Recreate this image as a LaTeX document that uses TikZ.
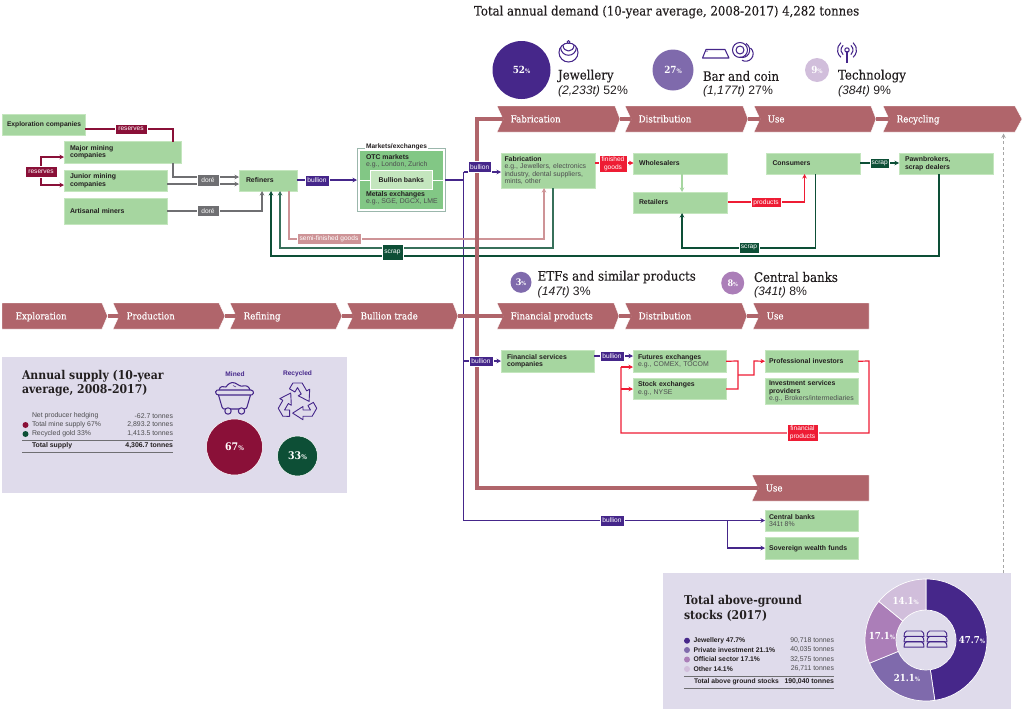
\documentclass[tikz,border=0pt]{standalone}
\usepackage{fontspec}
\setmainfont{Liberation Sans}
\newfontfamily\slab[FakeStretch=0.9,FakeBold=0.25]{DejaVu Serif}
\newfontfamily\slabb[FakeStretch=0.9]{DejaVu Serif Bold}
\usetikzlibrary{arrows.meta,calc}
\definecolor{boxg}{HTML}{A6D6A0}
\definecolor{boxe}{HTML}{C4E6BE}
\definecolor{boxm}{HTML}{82C785}
\definecolor{dkred}{HTML}{8A1038}
\definecolor{bluec}{HTML}{45268A}
\definecolor{grayc}{HTML}{6F6F72}
\definecolor{dkg}{HTML}{0D4F36}
\definecolor{midg}{HTML}{37705A}
\definecolor{redc}{HTML}{EE1C34}
\definecolor{pinkc}{HTML}{CE9497}
\definecolor{chev}{HTML}{B0656B}
\definecolor{panelc}{HTML}{DFDBEB}
\definecolor{pa}{HTML}{46278A}
\definecolor{pb}{HTML}{7F6AAC}
\definecolor{pc}{HTML}{AB7EB8}
\definecolor{pd}{HTML}{D1BEDB}
\definecolor{txt}{HTML}{231F20}
\definecolor{det}{HTML}{4D4D4F}
\tikzset{
  conn/.style={line width=1.2pt,-{Stealth[length=4.5pt,width=4.5pt]}},
  plain/.style={line width=1.2pt},
  bar/.style={line width=3.4pt,draw=chev},
  tlabel/.style={inner sep=0pt,outer sep=0pt,text=white,font=\fontsize{6.6}{7.8}\selectfont,align=center,draw=white,line width=0.3pt},
  gstyle/.style={fill=boxg,draw=boxe,line width=0.5pt,outer sep=0pt,anchor=center,align=left,text=txt,font=\fontsize{6.9}{7.6}\selectfont},
  tnode/.style={inner sep=0pt,outer sep=0pt,text=txt,align=left},
  ico/.style={draw=bluec,line width=1.05pt,line join=round},
  chevtext/.style={inner sep=0pt,text=white,font=\slab\fontsize{9.6}{11}\selectfont,anchor=base west},
  ctitle/.style={inner sep=0pt,text=white,font=\fontsize{9}{10}\selectfont\bfseries},
  bighead/.style={tnode,anchor=west,font=\slab\fontsize{13.1}{15}\selectfont},
  subhead/.style={tnode,anchor=west,font=\fontsize{12.2}{14}\selectfont},
}
\newcommand{\gbox}[7]{%
  \pgfmathsetmacro\bw{#4-#2}\pgfmathsetmacro\bh{#5-#3}\pgfmathsetmacro\tw{#4-#2-2*#6}%
  \node[gstyle,minimum width=\bw pt,minimum height=\bh pt,text width=\tw pt,inner xsep=#6pt,inner ysep=0pt] (#1) at ({(#2+#4)/2},{(#3+#5)/2}) {#7};}
\newcommand{\lab}[7]{%
  \pgfmathsetmacro\bw{#4-#2}\pgfmathsetmacro\bh{#5-#3}%
  \node[tlabel,fill=#6,minimum width=\bw pt,minimum height=\bh pt] (#1) at ({(#2+#4)/2},{(#3+#5)/2}) {#7};}
\newcommand{\chevr}[7]{% name x1 x2 tip notch yc text
  \fill[chev,draw=white,line width=0.4pt] (#2,#6-13) -- (#3,#6-13) -- (#4,#6) -- (#3,#6+13) -- (#2,#6+13) -- (#2+#5,#6) -- cycle;
  \coordinate (#1-l) at (#2+#5,#6); \coordinate (#1-r) at (#4,#6);
  \node[chevtext] (#1) at (#2+13.5,#6+3.4) {#7};}
\newcommand{\pct}[1]{#1{\fontsize{0.62em}{1em}\selectfont\%}}
\newcommand{\dseg}[3]{%
  \fill[#1,draw=white,line width=0.7pt] ({926+61*cos(#2)},{640+61*sin(#2)}) arc[start angle=#2,end angle=#3,radius=61] -- ({926+30*cos(#3)},{640+30*sin(#3)}) arc[start angle=#3,end angle=#2,radius=30] -- cycle;}
\newcommand{\goldbar}[2]{%
  \draw[ico,line width=0.95pt] (#1,#2+5.5) -- (#1+0.5,#2+2) -- (#1+2.5,#2) -- (#1+17.5,#2) -- (#1+19.5,#2+2) -- (#1+20,#2+5.5) -- cycle;}
\begin{document}
\begin{tikzpicture}[x=1pt,y=-1pt]
\useasboundingbox (0,0) rectangle (1024,710);
% titles
\node[bighead,font=\slab\fontsize{13}{15}\selectfont] (demand) at (474,12) {Total annual demand (10-year average, 2008-2017) 4,282 tonnes};
% demand circles
\node[circle,fill=pa,minimum size=58pt,inner sep=0pt,ctitle,font=\slabb\fontsize{9.8}{12}\selectfont] (cj) at (521.5,70) {\pct{52}};
\node[circle,fill=pb,minimum size=41pt,inner sep=0pt,ctitle,font=\slabb\fontsize{9.8}{12}\selectfont] (cb) at (673,70) {\pct{27}};
\node[circle,fill=pd,minimum size=24pt,inner sep=0pt,ctitle,font=\slabb\fontsize{9.8}{12}\selectfont] (ct) at (817,70) {\pct{9}};
\node[bighead] (tj) at (558,76) {Jewellery};
\node[subhead] (tj2) at (558,91) {\textit{(2,233t)} 52\%};
\node[bighead] (tb) at (703,76) {Bar and coin};
\node[subhead] (tb2) at (703,91) {\textit{(1,177t)} 27\%};
\node[bighead] (tt) at (838,76) {Technology};
\node[subhead] (tt2) at (838,91) {\textit{(384t)} 9\%};
% demand icons
\draw[ico] (568.5,52.5) circle (9.5);
\draw[ico] (560.5,47) .. controls (561,58) and (576,58) .. (576.5,47);
\draw[ico] (563,45) .. controls (563,53) and (574,53) .. (574,45);
\draw[ico,fill=white] (568.5,42) circle (1.5);
\draw[ico] (702.5,58) -- (706,49.5) -- (725,49.5) -- (729,58) -- cycle;
\fill[bluec] (707,51.2) circle (0.7);
\draw[ico] (740,50) circle (7.5);
\draw[ico] (740,50) circle (4);
\draw[ico] (746,43.5) arc[start angle=-60,end angle=110,radius=7.5];
\draw[ico] (750.5,48) arc[start angle=-50,end angle=120,radius=7.5];
\draw[ico] (847,51) -- (847,62.5);
\draw[ico] (847,50) circle (2.2);
\draw[ico] (850.9,45.4) arc[start angle=-50,end angle=50,radius=6];
\draw[ico] (853.1,42.7) arc[start angle=-50,end angle=50,radius=9.5];
\draw[ico] (843.1,45.4) arc[start angle=230,end angle=130,radius=6];
\draw[ico] (840.9,42.7) arc[start angle=230,end angle=130,radius=9.5];
% row 2 heads
\node[circle,fill=pb,minimum size=21pt,inner sep=0pt,ctitle,font=\slabb\fontsize{9}{11}\selectfont] (c3) at (521,282.3) {\pct{3}};
\node[circle,fill=pc,minimum size=23pt,inner sep=0pt,ctitle,font=\slabb\fontsize{9}{11}\selectfont] (c8) at (732.7,283) {\pct{8}};
\node[bighead] (te) at (537.7,277) {ETFs and similar products};
\node[subhead] (te2) at (537.7,292) {\textit{(147t)} 3\%};
\node[bighead] (tc) at (754,277) {Central banks};
\node[subhead] (tc2) at (754,292) {\textit{(341t)} 8\%};
% chevrons
\chevr{fa}{497}{615}{620}{6}{119}{Fabrication}
\chevr{di}{625}{743}{748}{6}{119}{Distribution}
\chevr{us}{754}{871}{876}{6}{119}{Use}
\chevr{rc}{883}{1015}{1022}{6}{119}{Recycling}
\chevr{ex}{2}{102}{107.5}{0}{316}{Exploration}
\chevr{pr}{113}{219}{225}{6}{316}{Production}
\chevr{re}{230}{336}{342}{6}{316}{Refining}
\chevr{bt}{347}{453}{458}{6}{316}{Bullion trade}
\chevr{fp}{497}{614}{619}{6}{316}{Financial products}
\chevr{d2}{625}{742}{747}{6}{316}{Distribution}
\chevr{u2}{753}{869}{869}{6}{316}{Use}
\chevr{u3}{752}{869}{869}{6}{488}{Use}
% blue vertical
\draw[plain,bluec] (463.7,172) -- (463.7,520.5);
\foreach \a/\b in {fa/di,di/us,us/rc,ex/pr,pr/re,re/bt,bt/fp,fp/d2,d2/u2}{\draw[bar] (\a-r) -- (\b-l);}
% boxes
\gbox{expl}{2}{114}{85}{135}{5}{\mbox{\textbf{\fontsize{6.7}{7.6}\selectfont Exploration companies}}}
\gbox{major}{64}{141.5}{181}{163}{6}{\textbf{Major mining\\companies}}
\gbox{junior}{64}{170}{167}{191}{6}{\textbf{Junior mining\\companies}}
\gbox{arti}{64}{198}{167}{224}{6}{\textbf{Artisanal miners}}
\gbox{refi}{239}{170}{297}{191}{7}{\textbf{Refiners}}
\gbox{fabr}{501}{153}{595}{188}{3.5}{\textbf{Fabrication}\\{\color{det}e.g., Jewellers, electronics\\industry, dental suppliers,\\mints, other}}
\gbox{whol}{633.5}{153}{727.5}{174}{5.5}{\textbf{Wholesalers}}
\gbox{reta}{633.5}{192}{727.5}{213}{5.5}{\textbf{Retailers}}
\gbox{cons}{766.5}{153}{860}{174}{6}{\textbf{Consumers}}
\gbox{pawn}{899}{153}{993}{174}{6}{\textbf{Pawnbrokers,\\scrap dealers}}
\gbox{fins}{501}{350.5}{594}{372}{6}{\textbf{Financial services\\companies}}
\gbox{futu}{633}{350.5}{726}{372}{5}{\textbf{Futures exchanges}\\{\color{det}e.g., COMEX, TOCOM}}
\gbox{stoc}{633}{378}{726}{399}{5}{\textbf{Stock exchanges}\\{\color{det}e.g., NYSE}}
\gbox{prof}{765}{350.5}{858}{372}{4}{\textbf{Professional investors}}
\gbox{inve}{765}{378}{858}{404.5}{4}{\textbf{Investment services\\providers}\\{\color{det}e.g., Brokers/intermediaries}}
\gbox{cban}{765}{510}{858}{531}{4}{\textbf{Central banks}\\{\color{det}341t 8\%}}
\gbox{sove}{765}{537.5}{858}{559}{4}{\textbf{Sovereign wealth funds}}
% markets
\node[draw=midg!50,line width=1pt,minimum width=88pt,minimum height=63pt,inner sep=0pt,outer sep=0pt] (mkt) at (401,179.5) {};
\node[fill=white,inner xsep=1.5pt,inner ysep=0pt,tnode,font=\fontsize{6.6}{7.6}\selectfont\bfseries,anchor=center] (mktt) at (396.5,146.5) {\,Markets/exchanges\,};
\node[fill=boxm,minimum width=83pt,minimum height=58.5pt,inner sep=0pt,outer sep=0pt] (mkti) at (401.7,180) {};
\draw[white,line width=1pt] (mkti.west) -- (mkti.east);
\node[tnode,anchor=north west,font=\fontsize{6.9}{7.6}\selectfont] (otc) at (366,154) {\textbf{OTC markets}\\{\color{det}e.g., London, Zurich}};
\node[fill=boxe,draw=white,line width=1.2pt,minimum width=62pt,minimum height=19pt,inner sep=0pt,outer sep=0pt,text=txt,font=\fontsize{6.9}{7.6}\selectfont\bfseries] (bban) at (401.3,179.7) {Bullion banks};
\node[tnode,anchor=north west,font=\fontsize{6.9}{7.6}\selectfont] (metal) at (366,191) {\textbf{Metals exchanges}\\{\color{det}e.g., SGE, DGCX, LME}};
% connectors
\draw[plain,dkred] (expl.east |- 0,129) -- (173,129) -- (major.north -| 173,0);
\draw[conn,grayc] (173,163) -- (173,177) -- (refi.west |- 0,177);
\draw[conn,grayc] (junior.east |- 0,184) -- (refi.west |- 0,184);
\draw[conn,grayc] (arti.east) -- (262,211) -- (262,191);
\draw[conn,dkred] (41,166) -- (41,157) -- (major.west |- 0,157);
\draw[conn,dkred] (41,177) -- (41,185) -- (junior.west |- 0,185);
\draw[conn,bluec] (refi.east |- 0,180) -- (mkt.west |- 0,180);
\draw[plain,bluec] (mkt.east |- 0,180) -- (463.7,180);
\draw[conn,bluec] (463.7,172) -- (fabr.west |- 0,172);
\draw[conn,pinkc] (289,191) -- (289,239) -- (544,239) -- (544,188);
\draw[conn,midg] (fabr.south -| 553,0) -- (553,248) -- (280,248) -- (280,191);
\draw[conn,dkg] (pawn.south -| 939,0) -- (939,256) -- (271,256) -- (271,191);
\draw[conn,redc] (fabr.east |- 0,163) -- (whol.west |- 0,163);
\draw[conn,boxg] (whol.south -| 682,0) -- (reta.north -| 682,0);
\draw[conn,redc] (reta.east |- 0,202) -- (804.5,202) -- (cons.south -| 804.5,0);
\draw[conn,dkg] (cons.east |- 0,163) -- (pawn.west |- 0,163);
\draw[conn,dkg] (cons.south -| 815.4,0) -- (815.4,248) -- (682,248) -- (reta.south -| 682,0);
\draw[conn,bluec] (463.7,361) -- (fins.west |- 0,361);
\draw[conn,bluec] (fins.east |- 0,356) -- (futu.west |- 0,356);
\draw[plain,redc] (futu.east) -- (738,361) -- (738,389) -- (stoc.east |- 0,389);
\draw[conn,redc] (738,375) -- (754,375) -- (754,361) -- (prof.west);
\draw[plain,redc] (prof.east) -- (869,361) -- (869,433) -- (621,433) -- (621,367);
\draw[conn,redc] (621,367) -- (futu.west |- 0,367);
\draw[conn,redc] (621,389) -- (stoc.west |- 0,389);
\draw[conn,bluec] (463.7,520.5) -- (cban.west |- 0,520.5);
\draw[conn,bluec] (727.5,520.5) -- (727.5,548) -- (sove.west |- 0,548);
% thick bar
\draw[line width=4pt,chev] (fa-l) -- (477,119) -- (477,488) -- (u3-l);
% connector labels
\lab{lr1}{115}{124}{147}{134.5}{dkred}{reserves}
\lab{lr2}{25}{166}{57}{177}{dkred}{reserves}
\lab{ld1}{197}{174.5}{219}{186}{grayc}{doré}
\lab{ld2}{197}{205.5}{219}{216.5}{grayc}{doré}
\lab{lb1}{305}{175}{329}{186}{bluec}{bullion}
\lab{lb2}{468}{161.5}{491.5}{172.5}{bluec}{bullion}
\lab{lsf}{297}{233.5}{361}{244}{pinkc}{semi-finished goods}
\lab{ls1}{382}{244}{403}{260}{dkg}{scrap}
\lab{lfg}{599}{155}{627}{172.5}{redc}{finished\\goods}
\lab{lpr}{751}{197.5}{781}{207.5}{redc}{products}
\lab{ls2}{870}{158.5}{889.5}{168.5}{dkg}{scrap}
\lab{ls3}{739}{242.5}{759}{253}{dkg}{scrap}
\lab{lb3}{469}{356}{493}{366.5}{bluec}{bullion}
\lab{lb4}{600}{351}{624}{361.5}{bluec}{bullion}
\lab{lfp}{787}{424.5}{818}{441.5}{redc}{financial\\products}
\lab{lb5}{600}{515}{624}{526}{bluec}{bullion}
% supply panel
\node[fill=panelc,minimum width=345pt,minimum height=136pt,inner sep=0pt,outer sep=0pt] (supply) at (174.5,425) {};
\node[tnode,anchor=west,font=\slabb\fontsize{12.1}{14}\selectfont] (sup1) at (22,376.7) {Annual supply (10-year};
\node[tnode,anchor=west,font=\slabb\fontsize{12.1}{14}\selectfont] (sup2) at (22,390.7) {average, 2008-2017)};
\foreach \n/\y/\a/\b in {s1/416/Net producer hedging/-62.7 tonnes,s2/425/Total mine supply 67\%/{2,893.2 tonnes},s3/434/Recycled gold 33\%/{1,413.5 tonnes}}{
  \node[tnode,anchor=west,font=\fontsize{6.9}{8}\selectfont,text=det] (\n a) at (32,\y) {\a};
  \node[tnode,anchor=east,font=\fontsize{6.9}{8}\selectfont,text=det] (\n b) at (173,\y) {\b};
}
\node[tnode,anchor=west,font=\fontsize{6.9}{8}\selectfont\bfseries] (s4a) at (32,446) {Total supply};
\node[tnode,anchor=east,font=\fontsize{6.9}{8}\selectfont\bfseries] (s4b) at (173,446) {4,306.7 tonnes};
\draw[grayc,line width=0.5pt] (22,440) -- (173,440) (22,452.5) -- (173,452.5);
\fill[dkred] (25.5,425) circle (3);
\fill[dkg] (25.5,434) circle (3);
\node[tnode,anchor=center,text=bluec,font=\fontsize{6.6}{8}\selectfont\bfseries] (mn) at (235,374) {Mined};
\node[tnode,anchor=center,text=bluec,font=\fontsize{6.6}{8}\selectfont\bfseries] (rcy) at (297.5,374) {Recycled};
\node[circle,fill=dkred,draw=white,line width=0.5pt,minimum size=56pt,inner sep=0pt,ctitle,font=\slabb\fontsize{10.5}{12}\selectfont] (c67) at (234.5,447) {\pct{67}};
\node[circle,fill=dkg,draw=white,line width=0.5pt,minimum size=40pt,inner sep=0pt,ctitle,font=\slabb\fontsize{10.5}{12}\selectfont] (c33) at (297.5,456) {\pct{33}};
% cart
\draw[ico] (215.5,392) .. controls (215.5,390) and (218,390) .. (219,390) -- (251,390) .. controls (253,390) and (253.5,392) .. (253.5,393) .. controls (253.5,395) and (251,395) .. (250,395) -- (219,395) .. controls (217,395) and (215.5,394) .. (215.5,392) -- cycle;
\draw[ico] (218.5,395) -- (222,407) .. controls (222.5,409) and (224,409) .. (225,409) -- (244,409) .. controls (246,409) and (246.5,408) .. (247,407) -- (250.5,395);
\draw[ico,fill=panelc] (228,411) circle (3.2);
\draw[ico,fill=panelc] (241.5,411) circle (3.2);
\draw[ico] (219,390) .. controls (220,385) and (224,387) .. (226,387) .. controls (228,384) and (231,381.5) .. (235,383) .. controls (238,384) and (240,387) .. (243,386) .. controls (247,385) and (249,387) .. (250,390);
\draw[ico,line width=0.5pt] (233,385.5) -- (236,387);
% recycle
\foreach \r in {0,120,240}{
\begin{scope}[shift={(297.5,402.5)},rotate=\r,scale=1.15]
\draw[ico,line width=0.9pt] (-7,-11.9) -- (-4,-17) -- (4,-17) -- (8,-10.1) -- (10.6,-11.6) -- (10.1,-0.97) -- (0.64,-5.85) -- (3.24,-7.35) -- (0,-13) -- (-2.24,-9.15) -- cycle;
\end{scope}}
% stocks panel
\node[fill=panelc,minimum width=348pt,minimum height=136pt,inner sep=0pt,outer sep=0pt] (stocks) at (837,641) {};
\draw[line width=0.8pt,draw=gray!70,dash pattern=on 3pt off 2.5pt,-{Stealth[length=4.5pt,width=4.5pt]}] (stocks.north -| 1003.5,0) -- (1003.5,133.5);
\node[tnode,anchor=west,font=\slabb\fontsize{12.1}{14}\selectfont] (st1) at (684,601.7) {Total above-ground};
\node[tnode,anchor=west,font=\slabb\fontsize{12.1}{14}\selectfont] (st2) at (684,616) {stocks (2017)};
\foreach \n/\y/\a/\b/\c in {k1/640.7/Jewellery 47.7\%/{90,718 tonnes}/pa,k2/650/Private investment 21.1\%/{40,035 tonnes}/pb,k3/659.5/Official sector 17.1\%/{32,575 tonnes}/pc,k4/669/Other 14.1\%/{26,711 tonnes}/pd}{
  \fill[\c] (687,\y) circle (3);
  \node[tnode,anchor=west,font=\fontsize{6.8}{8}\selectfont\bfseries] (\n a) at (693.5,\y) {\a};
  \node[tnode,anchor=east,font=\fontsize{6.9}{8}\selectfont,text=det] (\n b) at (834,\y) {\b};
}
\node[tnode,anchor=west,font=\fontsize{6.7}{8}\selectfont\bfseries] (k5a) at (694,682) {Total above ground stocks};
\node[tnode,anchor=east,font=\fontsize{6.9}{8}\selectfont\bfseries] (k5b) at (834,682) {190,040 tonnes};
\draw[grayc,line width=0.5pt] (684,676.5) -- (834,676.5) (684,688.5) -- (834,688.5);
\dseg{pa}{-90}{81.7}
\dseg{pb}{81.7}{157.7}
\dseg{pc}{157.7}{219.3}
\dseg{pd}{219.3}{270}
\foreach \n/\x/\y/\v in {d1/972/640/47.7,d2x/907/678/21.1,d3/882/636/17.1,d4/905.7/600.7/14.1}{
  \node[inner sep=0pt,text=white,font=\slabb\fontsize{9.6}{12}\selectfont] (\n) at (\x,\y) {\pct{\v}};
}
\foreach \x in {904,927}{\foreach \y in {631,636.3,641.6}{\goldbar{\x}{\y}}}
\end{tikzpicture}
\end{document}
